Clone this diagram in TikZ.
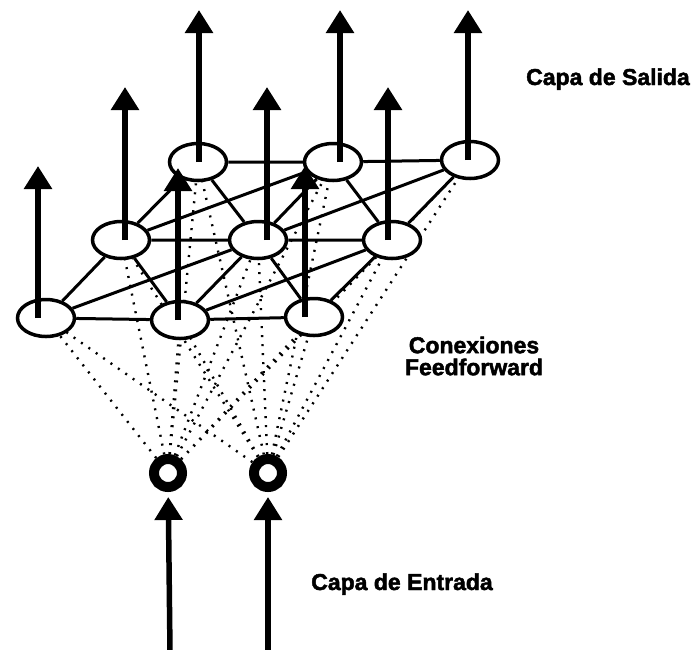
\documentclass[tikz,border=0pt]{standalone}
\usepackage{fontspec}
\setmainfont{Liberation Sans}
\newfontfamily\heavyfont[FakeBold=2]{Liberation Sans Bold}
\usetikzlibrary{arrows.meta,positioning,shapes.geometric,backgrounds}

\begin{document}
\begin{tikzpicture}[
    x=1pt,y=-1pt,
    neuron/.style={ellipse, draw, line width=3.5pt, fill=white, minimum width=57pt, minimum height=37pt, inner sep=0pt},
    inneuron/.style={circle, draw, line width=10pt, fill=white, minimum size=28pt, inner sep=0pt},
    link/.style={line width=3pt},
    ffwd/.style={line width=2.4pt, dash pattern=on 2pt off 7pt},
    outarrow/.style={-{Triangle[length=23pt,width=27pt]}, line width=6.5pt},
    inarrow/.style={-{Triangle[length=23pt,width=27pt]}, line width=5.5pt},
    layertext/.style={font=\fontsize{23}{22}\selectfont\heavyfont, align=center}
  ]
    % Bounding box
    \useasboundingbox (0,0) rectangle (696,649);

    % Capa de salida (3x3)
    \node[neuron] (b1) at (46,318) {};
    \node[neuron] (b2) at (180,320) {};
    \node[neuron] (b3) at (314,317) {};
    \node[neuron] (m1) at (121,240) {};
    \node[neuron] (m2) at (258,240) {};
    \node[neuron] (m3) at (392,240) {};
    \node[neuron] (t1) at (198,162) {};
    \node[neuron] (t2) at (333,162) {};
    \node[neuron] (t3) at (470,160) {};

    % Capa de entrada
    \node[inneuron] (e1) at (168,473) {};
    \node[inneuron] (e2) at (268,473) {};

    % Enlaces laterales
    \draw[link] (b1) -- (b2) (b2) -- (b3) (m1) -- (m2) (m2) -- (m3) (t1) -- (t2) (t2) -- (t3);
    \draw[link] (b1) -- (m1) (b2) -- (m2) (b3) -- (m3) (m1) -- (t1) (m2) -- (t2) (m3) -- (t3);
    \draw[link] (b1) -- (m2) (b2) -- (m3) (m1) -- (t2) (m2) -- (t3);
    \draw[link] (m1) -- (b2) (m2) -- (b3) (t1) -- (m2) (t2) -- (m3);

    % Conexiones feedforward (detras)
    \begin{scope}[on background layer]
      \draw[ffwd] (e1) -- (b1) (e1) -- (b2) (e1) -- (b3) (e1) -- (m1) (e1) -- (m2) (e1) -- (m3) (e1) -- (t1) (e1) -- (t2) (e1) -- (t3);
      \draw[ffwd] (e2) -- (b1) (e2) -- (b2) (e2) -- (b3) (e2) -- (m1) (e2) -- (m2) (e2) -- (m3) (e2) -- (t1) (e2) -- (t2) (e2) -- (t3);
    \end{scope}

    % Salidas
    \coordinate (t1out) at (199,10);
    \coordinate (t2out) at (340,10);
    \coordinate (t3out) at (468,10);
    \coordinate (m1out) at (125,87);
    \coordinate (m2out) at (267,87);
    \coordinate (m3out) at (388,87);
    \coordinate (b1out) at (38,166);
    \coordinate (b2out) at (178,168);
    \coordinate (b3out) at (305,166);
    \draw[outarrow] (t1out |- t1) -- (t1out);
    \draw[outarrow] (t2out |- t2) -- (t2out);
    \draw[outarrow] (t3out |- t3) -- (t3out);
    \draw[outarrow] (m1out |- m1) -- (m1out);
    \draw[outarrow] (m2out |- m2) -- (m2out);
    \draw[outarrow] (m3out |- m3) -- (m3out);
    \draw[outarrow] (b1out |- b1) -- (b1out);
    \draw[outarrow] (b2out |- b2) -- (b2out);
    \draw[outarrow] (b3out |- b3) -- (b3out);

    % Entradas
    \coordinate (e1in) at (170,652);
    \coordinate (e2in) at (268,652);
    \draw[inarrow, shorten >=5pt] (e1in) -- (e1);
    \draw[inarrow, shorten >=5pt] (e2in) -- (e2);

    % Textos
    \node[layertext, anchor=base] (salida) at (608,85) {Capa de Salida};
    \node[layertext] (conex) at (474,356) {Conexiones\\Feedforward};
    \node[layertext, anchor=base] (entrada) at (402,590) {Capa de Entrada};
  \end{tikzpicture}
\end{document}
